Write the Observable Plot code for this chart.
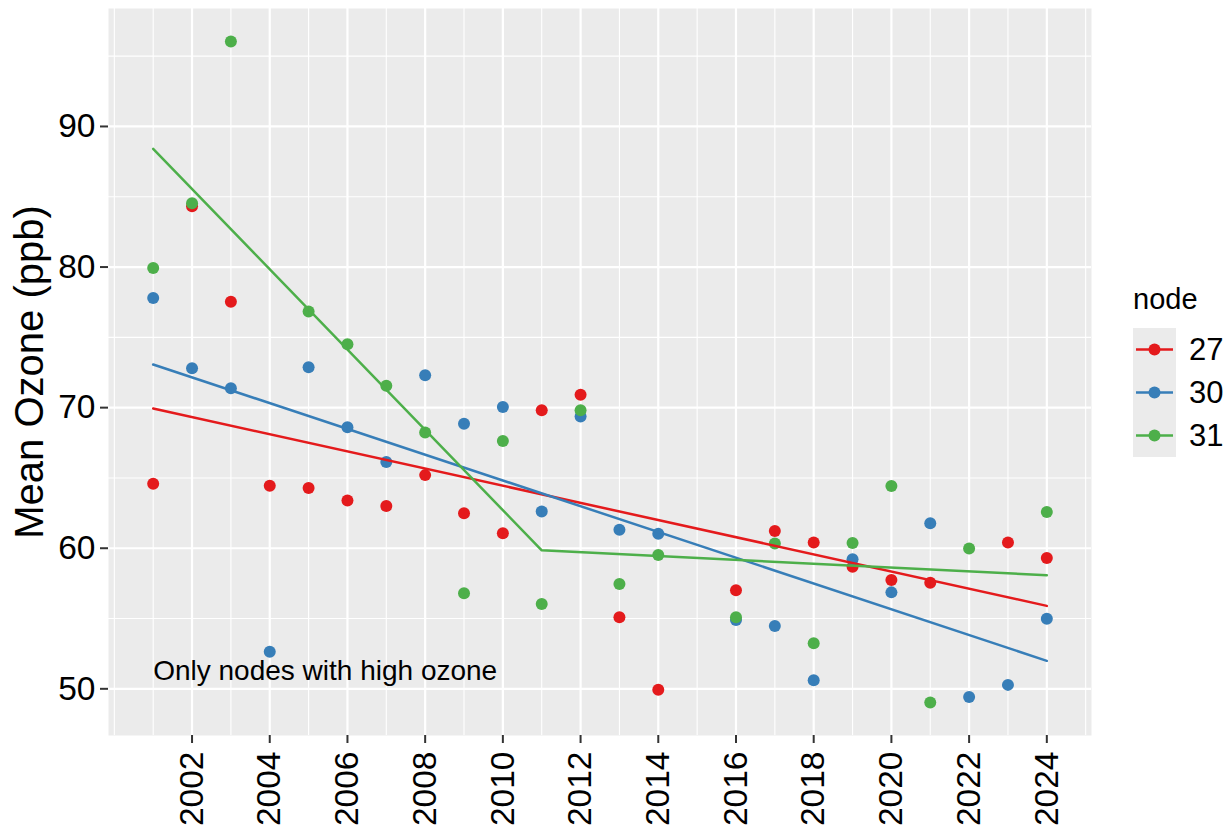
<!DOCTYPE html>
<html>
<head>
<meta charset="utf-8">
<script src="https://cdn.jsdelivr.net/npm/d3@7"></script>
<script src="https://cdn.jsdelivr.net/npm/@observablehq/plot@0.6"></script>
<style>
  html, body { margin: 0; padding: 0; background: #fff; }
  #wrap { position: relative; width: 1227px; height: 825px; font-family: "Liberation Sans", Arial, sans-serif; }
  #legend { position: absolute; left: 1133px; top: 283px; color: #000; }
  #legend .title { font-size: 29px; line-height: 33px; height: 45px; }
  #legend .row { display: flex; align-items: center; height: 43px; }
  #legend .key { width: 43px; height: 43px; background: #EBEBEB; }
  #legend .lab { font-size: 31px; margin-left: 13px; }
</style>
</head>
<body>
<div id="wrap"></div>
<script>
// ---- data ----
const nodes = ["27", "30", "31"];
const nodeColors = ["#E41A1C", "#377EB8", "#4DAF4A"];

const years27 = [2001,2002,2003,2004,2005,2006,2007,2008,2009,2010,2011,2012,2013,2014,2016,2017,2018,2019,2020,2021,2023,2024];
const ozone27 = [64.59,84.32,77.54,64.45,64.28,63.40,63.00,65.20,62.48,61.06,69.82,70.91,55.09,49.93,57.01,61.23,60.40,58.69,57.74,57.55,60.40,59.31];

const years30 = [2001,2002,2003,2004,2005,2006,2007,2008,2009,2010,2011,2012,2013,2014,2016,2017,2018,2019,2020,2021,2022,2023,2024];
const ozone30 = [77.80,72.81,71.38,52.63,72.88,68.61,66.13,72.31,68.85,70.04,62.62,69.37,61.32,61.03,54.90,54.47,50.61,59.21,56.86,61.78,49.41,50.28,54.99];

const years31 = [2001,2002,2003,2005,2006,2007,2008,2009,2010,2011,2012,2013,2014,2016,2017,2018,2019,2020,2021,2022,2024];
const ozone31 = [79.93,84.53,96.04,76.83,74.51,71.55,68.24,56.80,67.62,56.04,69.82,57.46,59.52,55.09,60.33,53.24,60.38,64.42,49.03,59.98,62.57];

// fitted trend lines (read endpoints / breakpoints)
const trendNode  = ["27","27","30","30","31","31","31"];
const trendYear  = [2001,2024,2001,2024,2001,2011,2024];
const trendOzone = [69.94,55.90,73.07,51.99,88.41,59.85,58.08];

// axis ticks / grid
const xMajor = [2002,2004,2006,2008,2010,2012,2014,2016,2018,2020,2022,2024];
const xMinor = [2000,2001,2003,2005,2007,2009,2011,2013,2015,2017,2019,2021,2023,2025];
const yMajor = [50,60,70,80,90];
const yMinor = [55,65,75,85,95];

const annotationText = ["Only nodes with high ozone"];
const annotationX = [2001];
const annotationY = [51.3];

const yTitle = "Mean Ozone (ppb)";
const legendTitle = "node";

// ---- build tables ----
const points = [];
[[years27, ozone27, "27"], [years30, ozone30, "30"], [years31, ozone31, "31"]].forEach(([ys, vs, n]) => {
  ys.forEach((yr, i) => points.push({year: yr, ozone: vs[i], node: n}));
});
const trend = trendNode.map((n, i) => ({node: n, year: trendYear[i], ozone: trendOzone[i]}));
const annot = annotationText.map((t, i) => ({label: t, x: annotationX[i], y: annotationY[i]}));

function expand(ext) { const d = (ext[1] - ext[0]) * 0.05; return [ext[0] - d, ext[1] + d]; }
const xDomain = expand(d3.extent(points, d => d.year));
const yDomain = expand(d3.extent(points, d => d.ozone));

const chart = Plot.plot({
  width: 1227,
  height: 825,
  marginLeft: 108,
  marginRight: 136,
  marginTop: 8,
  marginBottom: 90,
  style: { fontFamily: "'Liberation Sans', Arial, sans-serif", background: "white", color: "black", overflow: "visible" },
  x: { domain: xDomain, type: "linear" },
  y: { domain: yDomain, type: "linear" },
  color: { domain: nodes, range: nodeColors },
  marks: [
    Plot.frame({ fill: "#EBEBEB", stroke: "none" }),
    Plot.gridY(yMinor, { stroke: "white", strokeOpacity: 1, strokeWidth: 1.1 }),
    Plot.gridX(xMinor, { stroke: "white", strokeOpacity: 1, strokeWidth: 1.1 }),
    Plot.gridY(yMajor, { stroke: "white", strokeOpacity: 1, strokeWidth: 2.2 }),
    Plot.gridX(xMajor, { stroke: "white", strokeOpacity: 1, strokeWidth: 2.2 }),
    Plot.dot(points, { x: "year", y: "ozone", fill: "node", r: 6, stroke: "none" }),
    Plot.line(trend, { x: "year", y: "ozone", stroke: "node", z: "node", strokeWidth: 2.5 }),
    Plot.text(annot, { x: "x", y: "y", text: "label", textAnchor: "start", fontSize: 28, fill: "black" }),
    Plot.axisY(yMajor, { tickSize: 8, tickPadding: 5, fontSize: 33.5, label: null, stroke: "#333", strokeWidth: 2, fill: "black" }),
    Plot.axisX(xMajor, { tickSize: 8, tickPadding: 8, tickRotate: -90, fontSize: 33.5, label: null, stroke: "#333", strokeWidth: 2, fill: "black", tickFormat: d => String(d) }),
    Plot.text([yTitle], { frameAnchor: "left", textAnchor: "middle", rotate: -90, dx: -78, fontSize: 40, fill: "black" })
  ]
});

const wrap = document.getElementById("wrap");
wrap.appendChild(chart);

// legend (ggplot style)
const legend = document.createElement("div");
legend.id = "legend";
let html = `<div class="title">${legendTitle}</div>`;
nodes.forEach((n, i) => {
  const c = nodeColors[i];
  html += `<div class="row"><svg class="key" width="43" height="43"><rect width="43" height="43" fill="#EBEBEB"/>` +
          `<line x1="3" x2="40" y1="21.5" y2="21.5" stroke="${c}" stroke-width="2.5"/>` +
          `<circle cx="21.5" cy="21.5" r="6" fill="${c}"/></svg><span class="lab">${n}</span></div>`;
});
legend.innerHTML = html;
wrap.appendChild(legend);
</script>
</body>
</html>
